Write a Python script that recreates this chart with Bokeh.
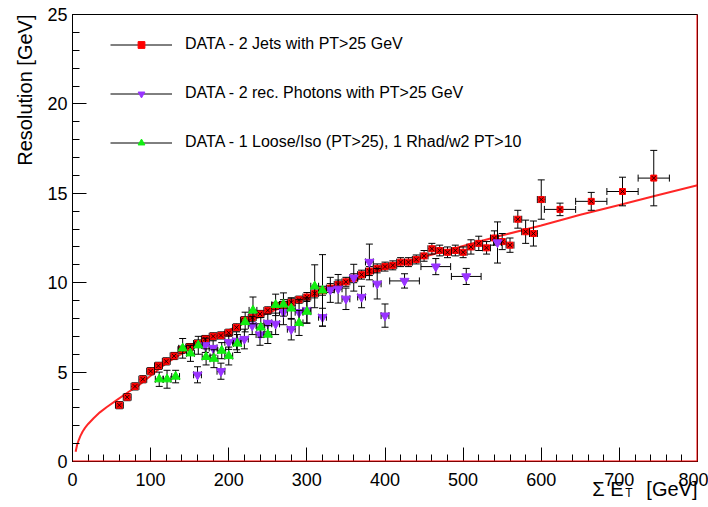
import numpy as np
from bokeh.plotting import figure
from bokeh.models import (ColumnDataSource, FixedTicker, Legend, LegendItem,
                          Title, Span)
from bokeh.embed import file_html
from bokeh.resources import INLINE

# ---------------- data ----------------
jets_x = [60, 70, 80, 90, 100, 110, 120, 130, 140, 150, 160, 170, 180, 190,
          200, 210, 220, 230, 240, 250, 260, 270, 280, 290, 300, 310, 320,
          330, 340, 350, 360, 370, 380, 390, 400, 410, 420, 430, 440, 450,
          460, 470, 480, 490, 500, 510, 520, 530, 540, 550, 560, 570, 580,
          590, 600, 624, 664, 704, 744]
jets_y = [3.15, 3.6, 4.2, 4.6, 5.05, 5.35, 5.6, 5.9, 6.25, 6.4, 6.6, 6.85,
          7.0, 7.05, 7.2, 7.5, 7.9, 8.05, 8.25, 8.45, 8.7, 8.75, 8.9, 9.05,
          9.2, 9.4, 9.55, 9.7, 9.9, 10.05, 10.25, 10.45, 10.65, 10.8, 10.9,
          10.97, 11.15, 11.15, 11.3, 11.5, 11.9, 11.8, 11.7, 11.8, 11.7,
          12.0, 12.2, 11.95, 12.5, 12.3, 12.1, 13.55, 12.85, 12.75, 14.65,
          14.1, 14.55, 15.1, 15.85]
jets_ey = [0.2, 0.2, 0.2, 0.2, 0.2, 0.2, 0.2, 0.2, 0.2, 0.2, 0.2, 0.2, 0.2,
           0.2, 0.2, 0.2, 0.2, 0.2, 0.2, 0.2, 0.2, 0.2, 0.2, 0.2, 0.25, 0.25,
           0.25, 0.25, 0.25, 0.25, 0.25, 0.25, 0.25, 0.25, 0.25, 0.25, 0.25,
           0.25, 0.25, 0.3, 0.3, 0.3, 0.3, 0.3, 0.3, 0.4, 0.4, 0.35, 0.4,
           0.45, 0.4, 0.5, 0.65, 0.7, 1.1, 0.35, 0.5, 0.8, 1.55]
jets_ex = [5] * 55 + [20, 20, 20, 20]

phot_x = [160, 170, 180, 190, 200, 210, 220, 230, 240, 250, 260, 270, 280,
          290, 300, 320, 330, 340, 350, 360, 370, 380, 390, 400, 425, 465,
          504, 544]
phot_y = [4.85, 6.5, 6.35, 5.05, 6.67, 6.75, 6.85, 7.6, 7.1, 7.75, 7.7,
          8.35, 7.4, 8.35, 8.45, 8.07, 9.6, 9.66, 9.1, 10.28, 9.2, 11.16,
          9.94, 8.16, 10.1, 10.9, 10.35, 12.25]
phot_ey = [0.45, 0.4, 0.4, 0.45, 0.4, 0.5, 0.55, 0.5, 0.6, 0.5, 0.6, 0.7,
           0.6, 0.7, 0.7, 0.5, 0.7, 0.8, 0.6, 0.75, 0.6, 1.0, 0.85, 0.65,
           0.4, 0.45, 0.45, 1.15]
phot_ex = [5] * 24 + [19, 19, 19, 5]

loose_x = [111, 121, 132, 141, 151, 161, 171, 181, 191, 200, 211, 221, 231,
           241, 250, 260, 270, 280, 290, 300, 310, 320]
loose_y = [4.6, 4.6, 4.75, 6.33, 6.05, 6.5, 5.85, 5.75, 6.2, 5.9, 6.6, 7.8,
           8.45, 7.5, 7.1, 8.76, 8.78, 8.56, 7.75, 8.38, 9.8, 9.57]
loose_ey = [0.4, 0.5, 0.35, 0.55, 0.45, 0.5, 0.45, 0.5, 0.45, 0.5, 0.5, 0.55,
            0.75, 0.55, 0.5, 0.6, 0.65, 0.6, 0.7, 0.65, 1.2, 2.0]
loose_ex = [5] * 22

fit_x = [4, 6, 8, 10, 13, 16, 20, 27, 35, 44, 57, 72, 83, 100, 120, 150,
         200, 250, 300, 350, 400, 450, 500, 550, 600, 650, 700, 750, 800]
fit_y = [0.55, 0.95, 1.2, 1.42, 1.68, 1.88, 2.1, 2.42, 2.75, 3.05, 3.45,
         3.9, 4.2, 4.8, 5.5, 6.3, 7.35, 8.3, 9.2, 10.0, 10.8, 11.45, 12.05,
         12.65, 13.2, 13.8, 14.35, 14.9, 15.45]

x_ticks = [0, 100, 200, 300, 400, 500, 600, 700, 800]
x_minor = list(range(0, 801, 20))
y_ticks = [0, 5, 10, 15, 20, 25]
y_minor = list(range(0, 26, 1))

labels = ["DATA - 2 Jets with PT>25 GeV",
          "DATA - 2 rec. Photons with PT>25 GeV",
          "DATA - 1 Loose/Iso (PT>25), 1 Rhad/w2 PT>10"]
y_title = "Resolution [GeV]"
x_title_main = "Σ E"
x_title_sub = "T"
x_title_unit = "[GeV]"

FONT = "Liberation Sans"

# ---------------- figure ----------------
p = figure(width=708, height=507, x_range=(0, 800), y_range=(0, 25),
           output_backend="svg", toolbar_location=None,
           min_border_left=72, min_border_right=11, min_border_top=14,
           min_border_bottom=46, background_fill_color="white",
           border_fill_color="white")
p.grid.visible = False
p.outline_line_color = "black"
p.outline_line_width = 1

for ax in (p.xaxis[0], p.yaxis[0]):
    ax.major_tick_in = 14
    ax.major_tick_out = 0
    ax.minor_tick_in = 7
    ax.minor_tick_out = 0
    ax.major_label_text_font = FONT
    ax.major_label_text_font_size = "18px"
    ax.major_label_text_color = "black"
    ax.axis_line_color = "black"
    ax.major_tick_line_color = "black"
    ax.minor_tick_line_color = "black"
p.xaxis.ticker = FixedTicker(ticks=x_ticks, minor_ticks=x_minor)
p.yaxis.ticker = FixedTicker(ticks=y_ticks, minor_ticks=y_minor)
p.xaxis.major_label_standoff = 11
p.yaxis.major_label_standoff = 5

# fit curve
p.line(fit_x, fit_y, line_color="red", line_width=2, line_alpha=0.85)


def draw_series(xs, ys, eys, exs, color, marker, size, extra_x=False):
    x = np.array(xs, dtype=float)
    y = np.array(ys, dtype=float)
    ey = np.array(eys, dtype=float)
    ex = np.array(exs, dtype=float)
    src = ColumnDataSource(dict(x=x, y=y, ylo=y - ey, yhi=y + ey,
                                xlo=x - ex, xhi=x + ex))
    p.segment(x0="x", y0="ylo", x1="x", y1="yhi", source=src,
              line_color="black", line_width=1)
    h = p.segment(x0="xlo", y0="y", x1="xhi", y1="y", source=src,
                  line_color="black", line_width=1)
    for yc in ("ylo", "yhi"):
        p.scatter(x="x", y=yc, marker="dash", size=7, line_color="black",
                  line_width=1, source=src)
    for xc in ("xlo", "xhi"):
        p.scatter(x=xc, y="y", marker="dash", angle=np.pi / 2, size=7,
                  line_color="black", line_width=1, source=src)
    m = p.scatter(x="x", y="y", marker=marker, size=size, fill_color=color,
                  line_color=color, source=src)
    if extra_x:
        p.scatter(x="x", y="y", marker="x", size=6, line_color="black",
                  line_width=1, line_alpha=0.8, source=src)
    return h, m


r_h, r_m = draw_series(jets_x, jets_y, jets_ey, jets_ex, "#ff0000", "square",
                       6, extra_x=True)
v_h, v_m = draw_series(phot_x, phot_y, phot_ey, phot_ex, "#9933ff",
                       "inverted_triangle", 9)
g_h, g_m = draw_series(loose_x, loose_y, loose_ey, loose_ex, "#11ee11",
                       "triangle", 9)

# red frame lines
p.add_layout(Span(location=800, dimension="height", line_color="red",
                  line_width=2))
p.add_layout(Span(location=0, dimension="width", line_color="red",
                  line_width=2))

legend = Legend(items=[LegendItem(label=labels[0], renderers=[r_h, r_m]),
                       LegendItem(label=labels[1], renderers=[v_h, v_m]),
                       LegendItem(label=labels[2], renderers=[g_h, g_m])],
                location=(38, 309), border_line_color=None,
                background_fill_alpha=0, label_text_font=FONT,
                label_text_font_size="16px", label_text_color="black",
                glyph_width=62, glyph_height=17, label_height=20,
                label_standoff=13, spacing=29, padding=0, margin=0)
p.add_layout(legend)


def title(text, size, **kw):
    return Title(text=text, text_font=FONT, text_font_size=size,
                 text_font_style="normal", text_color="black", **kw)


# y axis title at the top of the axis
p.add_layout(title(y_title, "20px", align="right", vertical_align="top",
                   offset=0, standoff=13), "left")

# x axis title at the end of the axis: "Σ E_T  [GeV]"
p.add_layout(title(x_title_unit, "20px", align="right",
                   vertical_align="middle", offset=0, standoff=-29), "below")
p.add_layout(title(x_title_main, "20px", align="right",
                   vertical_align="middle", offset=74, standoff=-23), "below")
p.add_layout(title(x_title_sub, "12px", align="right",
                   vertical_align="middle", offset=65, standoff=-9), "below")

open("out.html", "w").write(file_html(p, INLINE))
